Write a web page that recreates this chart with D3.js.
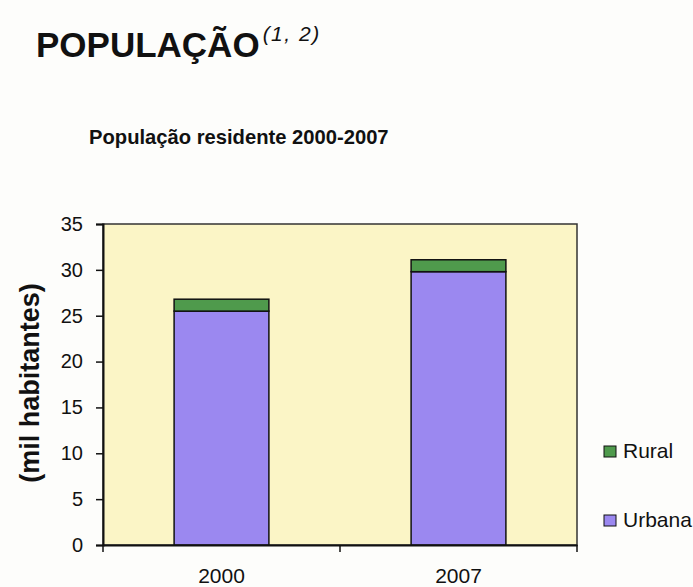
<!DOCTYPE html>
<html>
<head>
<meta charset="utf-8">
<script src="https://cdn.jsdelivr.net/npm/d3@7"></script>
<style>
  body { margin: 0; background: #fdfdfb; }
  text { font-family: "Liberation Sans", Arial, sans-serif; fill: #111; }
</style>
</head>
<body>
<div id="chart"></div>
<script>
// data (mil habitantes)
var years = ["2000", "2007"];
var urbana = [25.5, 29.8];
var rural = [1.3, 1.3];
var seriesNames = ["Rural", "Urbana"];
var yTicks = [0, 5, 10, 15, 20, 25, 30, 35];

var W = 693, H = 587;
var plot = { left: 103, right: 577, top: 224, bottom: 545 };

var svg = d3.select("#chart").append("svg")
  .attr("width", W)
  .attr("height", H);

// titles
var t = svg.append("text")
  .attr("x", 36).attr("y", 57)
  .style("font-size", "35px").style("font-weight", "bold");
t.append("tspan").text("POPULAÇÃO");
t.append("tspan").attr("dy", -16).attr("dx", 3)
  .style("font-size", "21px").style("font-style", "italic").style("font-weight", "normal")
  .style("letter-spacing", "1.5px")
  .text("(1, 2)");

svg.append("text")
  .attr("x", 89).attr("y", 144)
  .style("font-size", "20.2px").style("font-weight", "bold")
  .text("População residente 2000-2007");

// scales
var x = d3.scaleBand()
  .domain(years)
  .range([plot.left, plot.right])
  .paddingInner(0)
  .paddingOuter(0);

var y = d3.scaleLinear()
  .domain([0, 35])
  .range([plot.bottom, plot.top]);

// plot area
svg.append("rect")
  .attr("x", plot.left).attr("y", plot.top)
  .attr("width", plot.right - plot.left)
  .attr("height", plot.bottom - plot.top)
  .attr("fill", "#fbf5c6")
  .attr("stroke", "#333")
  .attr("stroke-width", 1.5);

// stack the two series
var rows = years.map(function(d, i) { return { year: d, Urbana: urbana[i], Rural: rural[i] }; });
var stack = d3.stack().keys(["Urbana", "Rural"])(rows);
var colors = { Urbana: "#9b88f0", Rural: "#4f9a4c" };

var barW = x.bandwidth() * 0.4;

svg.selectAll(".layer")
  .data(stack)
  .enter().append("g")
  .attr("class", "layer")
  .attr("fill", function(d) { return colors[d.key]; })
  .selectAll("rect")
  .data(function(d) { return d; })
  .enter().append("rect")
  .attr("x", function(d) { return x(d.data.year) + (x.bandwidth() - barW) / 2; })
  .attr("width", barW)
  .attr("y", function(d) { return y(d[1]); })
  .attr("height", function(d) { return y(d[0]) - y(d[1]); })
  .attr("stroke", "#111")
  .attr("stroke-width", 1.5);

// y axis
var yAxis = d3.axisLeft(y).tickValues(yTicks).tickSize(7).tickPadding(13);
var gy = svg.append("g")
  .attr("transform", "translate(" + plot.left + ",0)")
  .call(yAxis);
gy.selectAll("text").style("font-size", "20px");
gy.select(".domain").attr("stroke", "#111").attr("stroke-width", 2);
gy.selectAll(".tick line").attr("stroke", "#111").attr("stroke-width", 1.5);

// x axis with ticks between categories
var xAxis = d3.axisBottom(x).tickSize(0).tickPadding(23);
var gx = svg.append("g")
  .attr("transform", "translate(0," + plot.bottom + ")")
  .call(xAxis);
gx.selectAll("text").style("font-size", "21px");
gx.select(".domain").attr("stroke", "#111").attr("stroke-width", 2);

var bounds = [plot.left, x("2007"), plot.right];
gx.selectAll(".sep")
  .data(bounds)
  .enter().append("line")
  .attr("class", "sep")
  .attr("x1", function(d) { return d; })
  .attr("x2", function(d) { return d; })
  .attr("y1", 0).attr("y2", 7)
  .attr("stroke", "#111").attr("stroke-width", 1.5);

// y label
svg.append("text")
  .attr("transform", "translate(39,383) rotate(-90)")
  .attr("text-anchor", "middle")
  .style("font-size", "27px").style("font-weight", "bold")
  .text("(mil habitantes)");

// legend
var legend = svg.selectAll(".legend")
  .data(seriesNames)
  .enter().append("g")
  .attr("class", "legend")
  .attr("transform", function(d, i) { return "translate(604," + (446 + i * 69) + ")"; });

legend.append("rect")
  .attr("width", 12).attr("height", 11)
  .attr("fill", function(d) { return colors[d]; })
  .attr("stroke", "#111").attr("stroke-width", 1);

legend.append("text")
  .attr("x", 19).attr("y", 12)
  .style("font-size", "21px")
  .text(function(d) { return d; });
</script>
</body>
</html>
